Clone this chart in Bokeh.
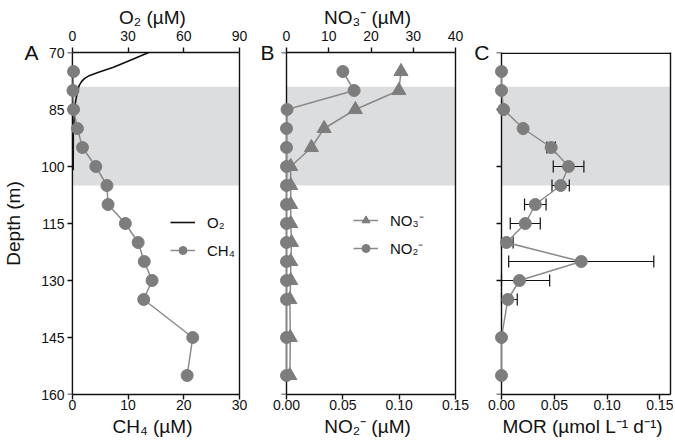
from bokeh.plotting import figure
from bokeh.layouts import row
from bokeh.models import (Range1d, LinearAxis, FixedTicker, BoxAnnotation, Span,
                          Legend, LegendItem, Whisker, TeeHead, ColumnDataSource,
                          NumeralTickFormatter, CustomLabelingPolicy)
from bokeh.embed import file_html
from bokeh.resources import INLINE

FONT = "Liberation Sans"
INK = "#111111"
MARK = "#7d7d7d"
LINE = "#8a8a8a"
SHADE = "#dcdddf"

# ---------------- data ----------------
depth_ticks = [70, 85, 100, 115, 130, 145, 160]
shade_top, shade_bottom = 79, 105

# Panel A
o2_depth = [70, 72.1, 73.9, 75.2, 76.1, 76.8, 77.6, 78.7, 80.9, 82.6, 85.3, 91.4, 101]
o2_uM = [41.1, 30.9, 22.1, 14.1, 9.0, 6.6, 5.0, 3.6, 2.5, 1.8, 1.1, 0.5, 0.4]
ch4_depth = [75, 80, 85, 90, 95, 100, 105, 110, 115, 120, 125, 130, 135, 145, 155]
ch4_uM = [0.2, 0.1, 0.2, 0.9, 1.8, 4.2, 6.2, 6.4, 9.5, 11.8, 12.9, 14.3, 12.8, 21.6, 20.6]
ch4_max, o2_max = 30, 90
ch4_ticks = [0, 10, 20, 30]
o2_ticks = [0, 30, 60, 90]

# Panel B
nut_depth = [75, 80, 85, 90, 95, 100, 105, 110, 115, 120, 125, 130, 135, 145, 155]
no3_uM = [27.1, 26.6, 16.3, 8.9, 5.9, 1.0, 1.0, 1.0, 1.0, 1.2, 1.0, 1.0, 0.8, 0.9, 0.8]
no2_uM = [0.050, 0.060, 0.0005, 0, 0, 0, 0, 0, 0, 0, 0, 0, 0, 0, 0]
no2_max, no3_max = 0.15, 40
no2_ticks = [0, 0.05, 0.10, 0.15]
no3_ticks = [0, 10, 20, 30, 40]

# Panel C
mor_depth = [75, 80, 85, 90, 95, 100, 105, 110, 115, 120, 125, 130, 135, 145, 155]
mor = [0, 0, 0.002, 0.0205, 0.047, 0.0635, 0.056, 0.032, 0.0225, 0.0047, 0.0755, 0.017, 0.006, 0, 0]
mor_sd = [0, 0, 0.001, 0.001, 0.004, 0.0145, 0.0082, 0.0102, 0.0142, 0.0063, 0.0687, 0.0286, 0.0089, 0.001, 0]
mor_max = 0.16
mor_ticks = [0, 0.05, 0.10, 0.15]

panel_letters = ["A", "B", "C"]

# ---------------- layout ----------------
H = 444
TOP, BOT = 52, 50
FRAME_H = H - TOP - BOT
AXIS_W = 169      # pixel length of each x axis (0 .. max)
PAD = 7           # white strip left of x = 0 so markers at zero are not cut
TICK = 5          # tick length, px
LW = 1.4

# only the first tick label (the panel letter) is drawn
FIRST_ONLY = CustomLabelingPolicy(code="""
for (const i of indices) { if (i > 0) indices.unset(i) }
return indices
""")


def padded(vmax):
    return Range1d(-vmax * PAD / AXIS_W, vmax)


def style_axis(ax, ticks, label=None, side="below", fmt=None):
    ax.ticker = FixedTicker(ticks=ticks)
    ax.axis_label = label
    ax.axis_label_text_font = FONT
    ax.axis_label_text_font_size = "19px"
    ax.axis_label_text_font_style = "normal"
    ax.axis_label_text_color = INK
    ax.major_label_text_font = FONT
    ax.major_label_text_font_size = "14px"
    ax.major_label_text_color = INK
    if side == "below":
        ax.major_label_standoff = 0
        ax.axis_label_standoff = 3
    elif side == "above":
        ax.major_label_standoff = 7
        ax.axis_label_standoff = 0
    else:
        ax.major_label_standoff = 3
        ax.axis_label_standoff = 1
    ax.axis_line_color = INK
    ax.axis_line_width = LW
    ax.major_tick_line_color = INK
    ax.major_tick_line_width = LW
    ax.major_tick_out = TICK
    ax.major_tick_in = 0
    ax.minor_tick_line_color = None
    if fmt:
        ax.formatter = NumeralTickFormatter(format=fmt)


def letter_labels(ax, letter, standoff):
    ax.major_label_overrides = {t: (letter if i == 0 else "") for i, t in enumerate(depth_ticks)}
    ax.major_label_policy = FIRST_ONLY
    ax.major_label_text_font_size = "21px"
    ax.major_label_standoff = standoff


def make_fig(lb, rb, xmax):
    p = figure(width=lb - PAD + AXIS_W + PAD + rb, height=H, x_range=padded(xmax),
               y_range=Range1d(160, 70),
               output_backend="svg", toolbar_location=None, title=None,
               min_border_left=lb - PAD, min_border_right=rb,
               min_border_top=TOP, min_border_bottom=BOT)
    p.xgrid.visible = False
    p.ygrid.visible = False
    p.outline_line_color = None
    p.background_fill_color = "white"
    p.border_fill_color = "white"
    p.add_layout(BoxAnnotation(left=0, top=shade_top, bottom=shade_bottom, fill_color=SHADE,
                               fill_alpha=1, line_color=None, level="underlay"))
    # depth axis line at x = 0 (inside the frame, below the markers)
    p.add_layout(Span(location=0, dimension="height", line_color=INK, line_width=LW,
                      level="underlay"))
    # right frame edge
    right = LinearAxis(ticker=FixedTicker(ticks=[]))
    right.axis_line_color = INK
    right.axis_line_width = LW
    right.major_tick_out = 0
    right.major_label_standoff = 0
    right.minor_tick_line_color = None
    p.add_layout(right, "right")
    # depth ticks drawn just left of x = 0
    tick_len = xmax * TICK / AXIS_W
    p.segment(x0=[-tick_len] * len(depth_ticks), x1=[0] * len(depth_ticks),
              y0=depth_ticks, y1=depth_ticks, line_color=INK, line_width=LW)
    return p


def finish_axes(p, xmax, ticks, label, fmt=None):
    style_axis(p.xaxis[0], ticks, label, "below", fmt=fmt)
    p.xaxis[0].bounds = (0, xmax)
    style_axis(p.yaxis[0], depth_ticks, None, "left")
    ya = p.yaxis[0]
    ya.axis_line_color = None
    ya.major_tick_line_color = None
    ya.major_tick_out = 0
    ya.major_label_standoff = 1


def make_legend(items, loc):
    return Legend(items=items, location=loc, background_fill_alpha=0,
                  border_line_color=None, padding=0, margin=0, spacing=8,
                  glyph_width=25, glyph_height=20, label_height=20,
                  label_standoff=12, label_text_font=FONT,
                  label_text_font_size="15px", label_text_color=INK)


# ---- Panel A ----
pa = make_fig(70, 10, ch4_max)
pa.extra_x_ranges = {"o2": padded(o2_max)}
finish_axes(pa, ch4_max, ch4_ticks, "CH₄ (µM)")
top_a = LinearAxis(x_range_name="o2")
style_axis(top_a, o2_ticks, "O₂ (µM)", "above")
top_a.bounds = (0, o2_max)
pa.add_layout(top_a, "above")
# outer left axis: panel letter + depth title
outer_a = LinearAxis()
style_axis(outer_a, depth_ticks, "Depth (m)", "left")
letter_labels(outer_a, panel_letters[0], 0)
outer_a.axis_line_color = None
outer_a.major_tick_line_color = None
outer_a.major_tick_out = 0
outer_a.axis_label_standoff = -3
pa.add_layout(outer_a, "left")

o2_line = pa.line(o2_uM, o2_depth, x_range_name="o2", line_color=INK, line_width=1.6)
ch4_line = pa.line(ch4_uM, ch4_depth, line_color=LINE, line_width=1.5)
ch4_pts = pa.scatter(ch4_uM, ch4_depth, size=12, fill_color=MARK, line_color=MARK)
pa.add_layout(make_legend([LegendItem(label="O₂", renderers=[o2_line]),
                           LegendItem(label="CH₄", renderers=[ch4_line, ch4_pts])],
                          (98 + PAD, 134)))

# ---- Panel B ----
pb = make_fig(37, 16, no2_max)
pb.extra_x_ranges = {"no3": padded(no3_max)}
finish_axes(pb, no2_max, no2_ticks, "NO₂⁻ (µM)", fmt="0.00")
letter_labels(pb.yaxis[0], panel_letters[1], 5)
top_b = LinearAxis(x_range_name="no3")
style_axis(top_b, no3_ticks, "NO₃⁻ (µM)", "above")
top_b.bounds = (0, no3_max)
pb.add_layout(top_b, "above")

no3_line = pb.line(no3_uM, nut_depth, x_range_name="no3", line_color=LINE, line_width=1.5)
no3_pts = pb.scatter(no3_uM, nut_depth, x_range_name="no3", marker="triangle", size=14,
                     fill_color=MARK, line_color=MARK)
no2_line = pb.line(no2_uM, nut_depth, line_color=LINE, line_width=1.5)
no2_pts = pb.scatter(no2_uM, nut_depth, size=12, fill_color=MARK, line_color=MARK)
pb.add_layout(make_legend([LegendItem(label="NO₃⁻", renderers=[no3_line, no3_pts]),
                           LegendItem(label="NO₂⁻", renderers=[no2_line, no2_pts])],
                          (67 + PAD, 136)))

# ---- Panel C ----
pc = make_fig(30, 3, mor_max)
finish_axes(pc, mor_max, mor_ticks, "MOR (µmol L⁻¹ d⁻¹)", fmt="0.00")
letter_labels(pc.yaxis[0], panel_letters[2], 5)
# top frame edge of panel C (from x = 0 to the right edge)
pc.add_layout(BoxAnnotation(left=0, top=70, bottom=70 + 90 * LW / FRAME_H,
                            fill_color=INK, fill_alpha=1, line_color=None))

lo = [max(v - s, 0) for v, s in zip(mor, mor_sd)]
hi = [v + s for v, s in zip(mor, mor_sd)]
src = ColumnDataSource(dict(depth=mor_depth, mor=mor, lo=lo, hi=hi))
pc.line("mor", "depth", source=src, line_color=LINE, line_width=1.5)
pc.scatter("mor", "depth", source=src, size=12, fill_color=MARK, line_color=MARK)
pc.add_layout(Whisker(base="depth", lower="lo", upper="hi", dimension="width", source=src,
                      line_color=INK, line_width=1.2,
                      lower_head=TeeHead(size=12, line_color=INK, line_width=1.2),
                      upper_head=TeeHead(size=12, line_color=INK, line_width=1.2)))

layout = row(pa, pb, pc)
open("out.html", "w").write(file_html(layout, INLINE))
